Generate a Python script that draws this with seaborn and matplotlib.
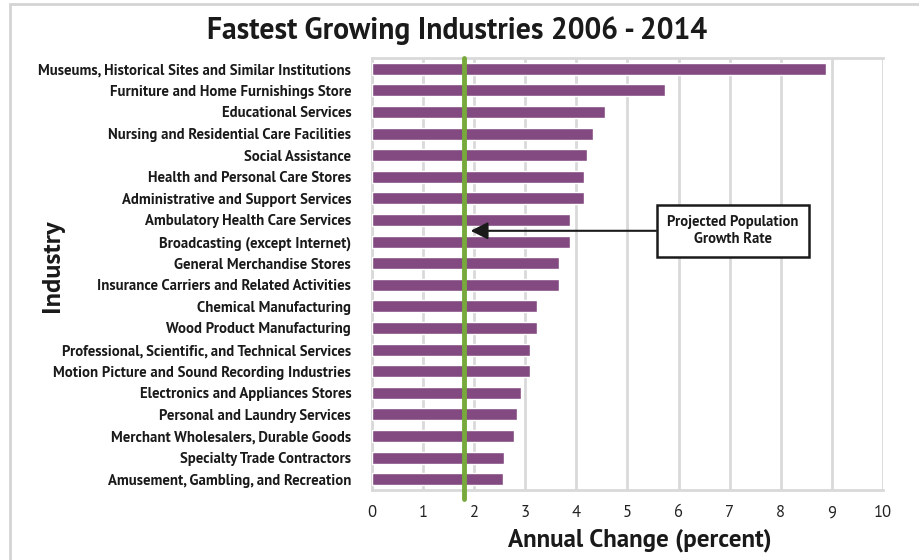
import matplotlib
matplotlib.use("Agg")
import matplotlib.pyplot as plt
import seaborn as sns
import pandas as pd
from matplotlib.patches import Rectangle

industries = [
    "Museums, Historical Sites and Similar Institutions",
    "Furniture and Home Furnishings Store",
    "Educational Services",
    "Nursing and Residential Care Facilities",
    "Social Assistance",
    "Health and Personal Care Stores",
    "Administrative and Support Services",
    "Ambulatory Health Care Services",
    "Broadcasting (except Internet)",
    "General Merchandise Stores",
    "Insurance Carriers and Related Activities",
    "Chemical Manufacturing",
    "Wood Product Manufacturing",
    "Professional, Scientific, and Technical Services",
    "Motion Picture and Sound Recording Industries",
    "Electronics and Appliances Stores",
    "Personal and Laundry Services",
    "Merchant Wholesalers, Durable Goods",
    "Specialty Trade Contractors",
    "Amusement, Gambling, and Recreation",
]
annual_change = [8.89, 5.73, 4.56, 4.32, 4.21, 4.15, 4.15, 3.88, 3.88, 3.65,
                 3.65, 3.23, 3.23, 3.10, 3.10, 2.92, 2.83, 2.77, 2.59, 2.57]
population_growth = 1.81
x_ticks = list(range(0, 11))

BAR = "#834a81"
GREEN = "#78a93c"
GRID = "#d9d9d9"
INK = "#1a1a1a"
FONT = ["PT Sans", "DejaVu Sans"]

sns.set_style("white")
plt.rcParams["font.family"] = FONT

df = pd.DataFrame({"Industry": industries, "Change": annual_change})

fig = plt.figure(figsize=(9.2, 5.6), dpi=100)
ax = fig.add_axes([372 / 920, 1 - 490 / 560, 511 / 920, 432 / 560])

sns.barplot(data=df, x="Change", y="Industry", orient="h", color=BAR,
            saturation=1, width=0.56, ax=ax, zorder=3)

ax.set_xlim(0, 10)
ax.set_ylim(len(industries) - 0.5, -0.5)
ax.set_xticks(x_ticks)
ax.set_xticklabels([str(t) for t in x_ticks], fontsize=12, color="#222222")
ax.grid(axis="x", color=GRID, linewidth=2, zorder=0)
ax.set_axisbelow(True)

for side in ["top", "left", "bottom"]:
    ax.spines[side].set_color(GRID)
    ax.spines[side].set_linewidth(2)
ax.spines["right"].set_visible(False)

ax.tick_params(axis="x", length=5, width=1.5, color=GRID, pad=6)
ax.tick_params(axis="y", length=0, pad=15)
ax.set_yticks(range(len(industries)))
ax.set_yticklabels(industries, fontsize=10.6, fontweight="bold", color=INK)
# Excel-style category separator ticks
ax.set_yticks([i + 0.5 for i in range(-1, len(industries))], minor=True)
ax.tick_params(axis="y", which="minor", length=5, width=1.5, color=GRID)

ax.set_xlabel("Annual Change (percent)", fontsize=18, fontweight="bold", color=INK)
ax.xaxis.set_label_coords(0.524, -0.088)
ax.set_ylabel("Industry", fontsize=19, fontweight="bold", color=INK)
ax.yaxis.set_label_coords(-0.603, 0.519)

# projected population growth line
ax.axvline(population_growth, ymin=-0.02, ymax=1, color=GREEN, linewidth=3.5,
           zorder=4, clip_on=False)

# annotation box with arrow
ax.annotate("Projected Population\nGrowth Rate", xy=(1.93, 7.5), xytext=(7.06, 7.5),
            ha="center", va="center", fontsize=10.5, fontweight="bold",
            color=INK, linespacing=1.3, zorder=6,
            bbox=dict(boxstyle="square,pad=0.7", fc="white", ec=INK, lw=1.8),
            arrowprops=dict(arrowstyle="-|>,head_length=1.0,head_width=0.5",
                            color=INK, lw=1.5, shrinkA=0, shrinkB=0))

fig.text(0.497, 0.945, "Fastest Growing Industries 2006 - 2014", ha="center",
         va="center", fontsize=21.3, fontweight="bold", color=INK)

# light outer frame
fig.patches.append(Rectangle((10 / 920, -0.05), 1.0, 0.05 + 1 - 4 / 560,
                             transform=fig.transFigure, fill=False,
                             ec="#d4d4d4", lw=2))

fig.savefig("out.png", dpi=100, facecolor="white")
